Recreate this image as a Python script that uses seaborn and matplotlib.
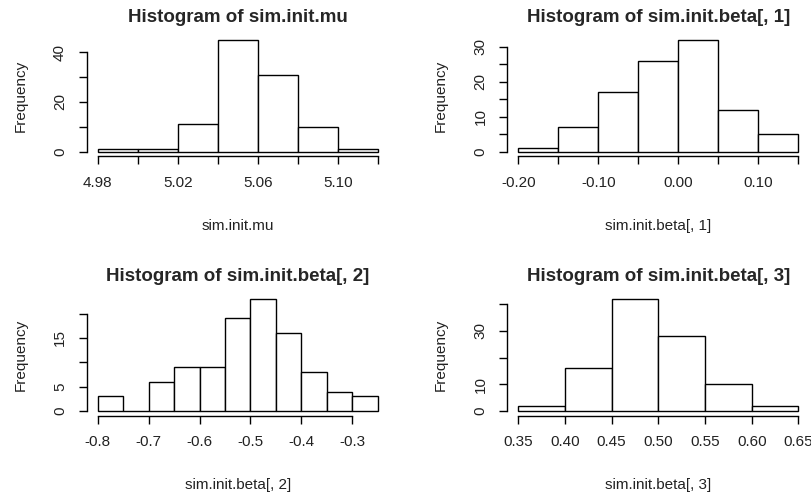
import numpy as np
import pandas as pd
import matplotlib
matplotlib.use("Agg")
import matplotlib.pyplot as plt
import seaborn as sns

# ---- data ----
mu_edges = [4.98, 5.00, 5.02, 5.04, 5.06, 5.08, 5.10, 5.12]
mu_counts = [1, 1, 11, 45, 31, 10, 1]

b1_edges = [-0.20, -0.15, -0.10, -0.05, 0.00, 0.05, 0.10, 0.15]
b1_counts = [1, 7, 17, 26, 32, 12, 5]

b2_edges = [-0.80, -0.75, -0.70, -0.65, -0.60, -0.55, -0.50, -0.45, -0.40, -0.35, -0.30, -0.25]
b2_counts = [3, 0, 6, 9, 9, 19, 23, 16, 8, 4, 3]

b3_edges = [0.35, 0.40, 0.45, 0.50, 0.55, 0.60, 0.65]
b3_counts = [2, 16, 42, 28, 10, 2]

titles = ["Histogram of sim.init.mu", "Histogram of sim.init.beta[, 1]",
          "Histogram of sim.init.beta[, 2]", "Histogram of sim.init.beta[, 3]"]
xlabels = ["sim.init.mu", "sim.init.beta[, 1]", "sim.init.beta[, 2]", "sim.init.beta[, 3]"]

x_ticks = [[4.98, 5.00, 5.02, 5.04, 5.06, 5.08, 5.10, 5.12],
           [-0.20, -0.15, -0.10, -0.05, 0.00, 0.05, 0.10, 0.15],
           [-0.8, -0.7, -0.6, -0.5, -0.4, -0.3],
           [0.35, 0.40, 0.45, 0.50, 0.55, 0.60, 0.65]]
x_ticklabels = [["4.98", "", "5.02", "", "5.06", "", "5.10", ""],
                ["-0.20", "", "-0.10", "", "0.00", "", "0.10", ""],
                ["-0.8", "-0.7", "-0.6", "-0.5", "-0.4", "-0.3"],
                ["0.35", "0.40", "0.45", "0.50", "0.55", "0.60", "0.65"]]
y_ticks = [[0, 10, 20, 30, 40],
           [0, 5, 10, 15, 20, 25, 30],
           [0, 5, 10, 15, 20],
           [0, 10, 20, 30, 40]]
y_ticklabels = [["0", "", "20", "", "40"],
                ["0", "", "10", "", "20", "", "30"],
                ["0", "5", "", "15", ""],
                ["0", "10", "", "30", ""]]

panels = [(mu_edges, mu_counts), (b1_edges, b1_counts),
          (b2_edges, b2_counts), (b3_edges, b3_counts)]

sns.set_style("white")
plt.rcParams['font.family'] = ['Liberation Sans', 'DejaVu Sans']

fig = plt.figure(figsize=(8.11, 4.94), dpi=100)
W, H = 811, 494
boxes = [(86.5, 35.3, 302.5, 120.9), (507.1, 35.3, 302.5, 120.9),
         (86.5, 294.5, 302.5, 121.0), (507.1, 294.5, 302.5, 121.0)]

for i, ((edges, counts), (l, t, w, h)) in enumerate(zip(panels, boxes)):
    ax = fig.add_axes([l / W, 1 - (t + h) / H, w / W, h / H])
    e = np.array(edges, dtype=float)
    centers = list((e[:-1] + e[1:]) / 2)
    df = pd.DataFrame({"x": centers, "n": [float(c) for c in counts]})
    sns.histplot(data=df, x="x", weights="n", bins=list(edges), stat="count",
                 color="white", edgecolor="black", linewidth=1.0, alpha=1,
                 ax=ax)
    x0, x1 = edges[0], edges[-1]
    dx = (x1 - x0) * 0.04
    ax.set_xlim(x0 - dx, x1 + dx)
    ymax = max(counts)
    ax.set_ylim(-ymax * 0.04, ymax * 1.04)
    for s in ["top", "right"]:
        ax.spines[s].set_visible(False)
    for s in ["left", "bottom"]:
        ax.spines[s].set_color("black")
        ax.spines[s].set_linewidth(1.0)
    ax.set_xticks(x_ticks[i])
    ax.set_xticklabels(x_ticklabels[i])
    ax.set_yticks(y_ticks[i])
    ax.set_yticklabels(y_ticklabels[i], rotation=90, va="center")
    ax.spines["bottom"].set_bounds(x_ticks[i][0], x_ticks[i][-1])
    ax.spines["left"].set_bounds(y_ticks[i][0], y_ticks[i][-1])
    ax.tick_params(axis="both", direction="out", length=6, width=1.0,
                   color="black", labelsize=11, labelcolor="#222222", pad=8,
                   bottom=True, left=True)
    ax.set_xlabel(xlabels[i], fontsize=11, color="#222222", va="center")
    ax.xaxis.set_label_coords(0.5, -0.575)
    ax.set_ylabel("Frequency", fontsize=11, color="#222222", va="center")
    ax.yaxis.set_label_coords(-0.218, 0.5)
    ax.set_title(titles[i], fontsize=13.5, fontweight="bold", y=1.15, va="center", pad=0)
    ax.grid(False)

fig.savefig("out.png", dpi=100)
